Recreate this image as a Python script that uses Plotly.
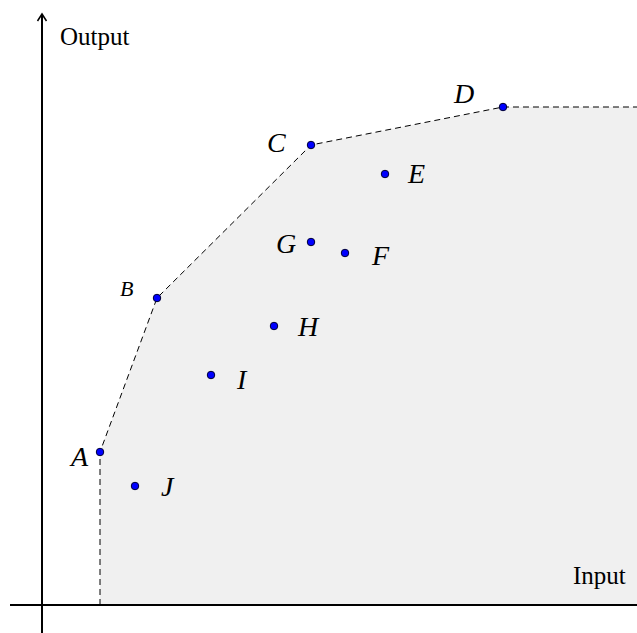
import plotly.graph_objects as go

# Data (units: input, output)
labels = ["A", "B", "C", "D", "E", "F", "G", "H", "I", "J"]
inputs = [5.8, 11.5, 26.9, 46.1, 34.3, 30.3, 26.9, 23.2, 16.9, 9.3]
outputs = [15.3, 30.7, 46.0, 49.8, 43.1, 35.2, 36.3, 27.9, 23.0, 11.9]
frontier = ["A", "B", "C", "D"]
x_min, x_max = -4.2, 59.5
y_min, y_max = -2.8, 60.5

idx = {l: i for i, l in enumerate(labels)}
fx = [inputs[idx[l]] for l in frontier]
fy = [outputs[idx[l]] for l in frontier]

fig = go.Figure()

# shaded feasible region
poly_x = [fx[0]] + fx + [x_max, x_max, fx[0]]
poly_y = [0] + fy + [fy[-1], 0, 0]
fig.add_trace(go.Scatter(x=poly_x, y=poly_y, fill="toself", fillcolor="#f0f0f0",
                         line=dict(width=0), mode="lines", hoverinfo="skip"))

# dashed frontier
line_x = [fx[0]] + fx + [x_max]
line_y = [0] + fy + [fy[-1]]
fig.add_trace(go.Scatter(x=line_x, y=line_y, mode="lines",
                         line=dict(color="black", width=1, dash="6px,4px"), hoverinfo="skip"))

# axes
fig.add_shape(type="line", x0=-3.2, y0=0, x1=x_max, y1=0, line=dict(color="black", width=2))
fig.add_shape(type="line", x0=0, y0=y_min, x1=0, y1=59.1, line=dict(color="black", width=2))
fig.add_shape(type="path", path="M -0.45,58.4 L 0,59.1 L 0.45,58.4",
              line=dict(color="black", width=1.5))

# points
fig.add_trace(go.Scatter(x=inputs, y=outputs, mode="markers",
                         marker=dict(color="#0000ff", size=7.5, line=dict(color="#000033", width=1))))

# point labels (offsets in data units)
offsets = {"A": (-2.15, -0.45), "B": (-3.1, 0.95), "C": (-3.5, 0.3), "D": (-4.0, 1.35),
           "E": (3.05, 0.1), "F": (3.5, -0.2), "G": (-2.55, -0.1), "H": (3.45, 0.0),
           "I": (3.05, -0.45), "J": (3.3, 0.0)}
for l, x, y in zip(labels, inputs, outputs):
    dx, dy = offsets[l]
    fig.add_annotation(x=x + dx, y=y + dy, text=f"<i>{l}</i>", showarrow=False,
                       font=dict(family="Liberation Serif", size=22 if l == "B" else 28, color="black"),
                       xanchor="center", yanchor="middle")

fig.add_annotation(x=5.3, y=56.84, text="Output", showarrow=False,
                   font=dict(family="Liberation Serif", size=25, color="black"))
fig.add_annotation(x=55.7, y=2.94, text="Input", showarrow=False,
                   font=dict(family="Liberation Serif", size=25, color="black"))

fig.update_layout(width=637, height=633, margin=dict(l=0, r=0, t=0, b=0),
                  paper_bgcolor="white", plot_bgcolor="white", showlegend=False)
fig.update_xaxes(range=[x_min, x_max], visible=False)
fig.update_yaxes(range=[y_min, y_max], visible=False)

fig.write_html("out.html", config={"displayModeBar": False},
               post_script="document.body.style.margin='0';document.body.style.overflow='hidden';")
